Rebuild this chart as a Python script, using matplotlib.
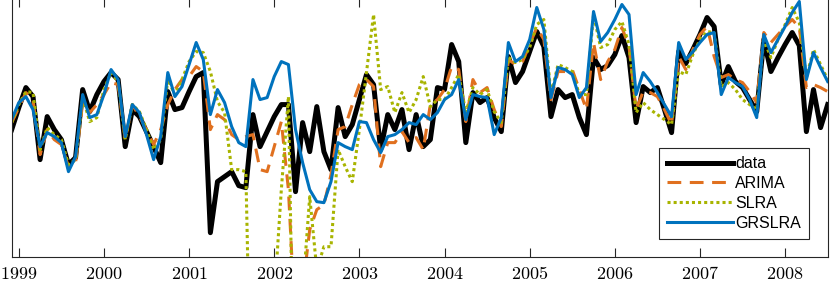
import numpy as np
import pandas as pd
import matplotlib
matplotlib.use('Agg')
import matplotlib.pyplot as plt

plt.rcParams['mathtext.fontset'] = 'cm'

# monthly series, Dec 1998 .. Jul 2008
months = pd.date_range('1998-12-01', periods=116, freq='MS')
t = np.asarray(months.year + (months.month - 1) / 12.0)

years = [1999, 2000, 2001, 2002, 2003, 2004, 2005, 2006, 2007, 2008]

data = [127, 149, 169, 160, 97, 140, 127, 117, 92, 99,
        167, 145, 162, 175, 184, 177, 110, 147, 140, 125,
        110, 94, 165, 147, 149, 165, 180, 184, 24, 75,
        80, 85, 71, 69, 142, 110, 125, 140, 152, 152,
        65, 134, 105, 150, 105, 87, 149, 120, 132, 157,
        182, 172, 107, 142, 127, 147, 107, 142, 110, 117,
        169, 167, 212, 195, 114, 164, 154, 159, 139, 125,
        200, 174, 185, 205, 225, 210, 140, 167, 159, 162,
        139, 122, 199, 187, 191, 202, 221, 199, 134, 170,
        164, 169, 147, 124, 205, 193, 207, 222, 239, 230,
        172, 190, 175, 169, 157, 145, 217, 185, 199, 212,
        224, 211, 125, 167, 129, 152]

arima = [134, 149, 164, 157, 102, 127, 117, 112, 90, 94,
         154, 144, 152, 162, 174, 172, 117, 152, 140, 127,
         112, 127, 152, 167, 177, 180, 190, 185, 127, 142,
         137, 122, 117, 120, 122, 87, 85, 110, 135, 67,
         -73, -33, 27, 47, 52, 82, 127, 130, 152, 172,
         177, 170, 90, 114, 114, 125, 114, 119, 107, 152,
         157, 167, 190, 187, 135, 177, 164, 169, 147, 130,
         197, 192, 195, 212, 229, 217, 157, 185, 185, 187,
         167, 147, 214, 177, 195, 207, 229, 210, 147, 165,
         164, 160, 147, 132, 200, 187, 207, 222, 230, 200,
         179, 182, 177, 174, 165, 154, 224, 214, 222, 230,
         237, 229, 169, 172, 169, 165]

slra = [134, 152, 165, 164, 107, 129, 122, 117, 92, 97,
        159, 135, 139, 167, 184, 175, 117, 152, 145, 127,
        107, 117, 177, 162, 177, 195, 205, 204, 185, 155,
        144, 87, 87, 85, -250, -300, -250, -43, 67, 160,
        -243, -37, 60, -13, 10, 10, 107, 90, 75, 127,
        184, 242, 167, 170, 144, 164, 144, 157, 180, 150,
        157, 157, 169, 182, 144, 169, 162, 167, 145, 134,
        199, 194, 197, 209, 232, 237, 162, 192, 189, 185,
        162, 162, 242, 209, 212, 227, 235, 212, 144, 154,
        147, 142, 137, 132, 185, 182, 202, 217, 225, 224,
        170, 174, 167, 157, 152, 147, 217, 199, 217, 232,
        249, 234, 179, 207, 192, 177]

grslra = [137, 154, 160, 147, 110, 124, 120, 114, 85, 100,
          162, 139, 142, 162, 187, 177, 120, 152, 144, 122,
          97, 120, 184, 160, 170, 192, 214, 197, 142, 167,
          154, 130, 114, 110, 177, 157, 159, 180, 195, 192,
          127, 94, 67, 55, 54, 75, 114, 110, 107, 135,
          134, 117, 104, 120, 122, 127, 134, 132, 142, 137,
          144, 157, 162, 177, 137, 162, 160, 159, 122, 139,
          214, 195, 200, 217, 249, 227, 159, 189, 187, 182,
          159, 169, 245, 215, 224, 237, 252, 242, 162, 184,
          175, 164, 152, 140, 214, 197, 205, 214, 222, 224,
          162, 179, 174, 170, 157, 139, 222, 204, 217, 230,
          244, 255, 177, 204, 189, 175]

fig = plt.figure(figsize=(8.3, 2.84), dpi=100)
ax = fig.add_axes([0.0141, 0.0961, 0.9831, 0.9092])

ax.plot(t, data, color='k', lw=3.6, label='data')
ax.plot(t, arima, color='#E0701F', lw=2.2, dashes=(4.5, 2.8), label='ARIMA')
ax.plot(t, slra, color='#A8B400', lw=2.2, dashes=(1, 1), label='SLRA')
ax.plot(t, grslra, color='#0072BD', lw=2.2, label='GRSLRA')

ax.set_xlim(t[0], t[-1])
ax.set_ylim(0, 258)
ax.set_xticks(years)
ax.set_xticklabels([r'$%d$' % y for y in years])
ax.set_yticks([])
ax.tick_params(axis='x', direction='in', length=6.5, width=0.8, top=True,
               labelsize=13, pad=6, color='#262626')
for s in ax.spines.values():
    s.set_linewidth(0.8)
    s.set_color('#262626')

leg = ax.legend(loc='upper right', bbox_to_anchor=(0.977, 0.42), borderaxespad=0,
                prop={'family': 'Liberation Sans', 'size': 11.5},
                handlelength=4.1, handletextpad=0.15, labelspacing=0.3,
                borderpad=0.5, fancybox=False, framealpha=1, edgecolor='#262626')
leg.get_frame().set_linewidth(0.8)

fig.savefig('out.png', dpi=100)
